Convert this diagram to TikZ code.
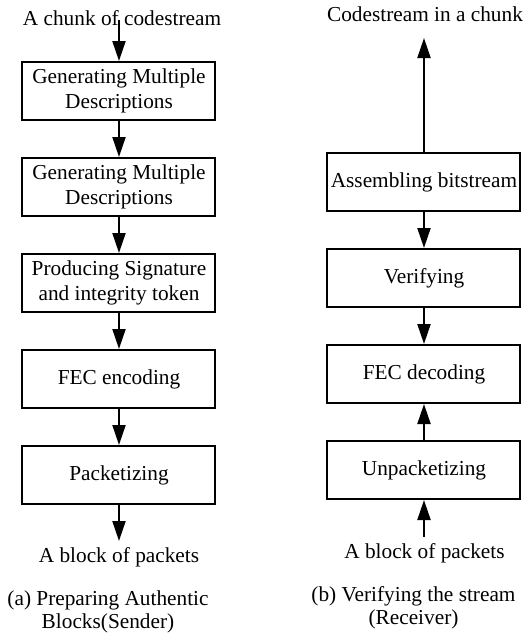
\documentclass[tikz,border=0pt]{standalone}
\usepackage{fontspec}
\setmainfont{Liberation Serif}
\usetikzlibrary{arrows.meta,positioning}

\begin{document}
\begin{tikzpicture}[x=0.5pt, y=-0.5pt,
  font=\fontsize{10.65}{12.75}\selectfont,
  stage/.style={draw, line width=1pt, minimum width=96.5pt, minimum height=29pt, align=center, inner sep=1pt},
  caption/.style={align=center, font=\fontsize{10.65}{11.5}\selectfont},
  flow/.style={-{Triangle[length=10pt,width=6.5pt]}, line width=1pt}]

\useasboundingbox (0,0) rectangle (526,634);

% Sender: stages from top to bottom
\node[anchor=base] (chunkin) at (122,25) {A chunk of codestream};
\coordinate (sendin) at (119,20);
\node[stage] (gen1) at (119,91) {Generating Multiple\\Descriptions};
\node[stage] (gen2) at (119,187) {Generating Multiple\\Descriptions};
\node[stage] (sign) at (119,283) {Producing Signature\\and integrity token};
\node[stage] (fecenc) at (119,379) {FEC encoding};
\node[stage] (packet) at (119,475) {Packetizing};
\coordinate (sendout) at (119,541);
\node[anchor=base] (blockout) at (119,562) {A block of packets};
\node[caption] (capa) at (108,612) {(a) Preparing Authentic\\Blocks(Sender)};

% Sender arrows
\draw[flow] (sendin) -- (gen1);
\draw[flow] (gen1) -- (gen2);
\draw[flow] (gen2) -- (sign);
\draw[flow] (sign) -- (fecenc);
\draw[flow] (fecenc) -- (packet);
\draw[flow] (packet) -- (sendout);

% Receiver: stages from top to bottom
\node[anchor=base] (chunkout) at (425,21) {Codestream in a chunk};
\coordinate (recvout) at (424,38);
\node[stage] (assemble) at (424,182) {Assembling bitstream};
\node[stage] (verify) at (424,278) {Verifying};
\node[stage] (fecdec) at (424,374) {FEC decoding};
\node[stage] (unpack) at (424,470) {Unpacketizing};
\coordinate (recvin) at (424,537);
\node[anchor=base] (blockin) at (424.5,558) {A block of packets};
\node[caption] (capb) at (413.5,608) {(b) Verifying the stream\\(Receiver)};

% Receiver arrows
\draw[flow] (assemble) -- (recvout);
\draw[flow] (assemble) -- (verify);
\draw[flow] (verify) -- (fecdec);
\draw[flow] (unpack) -- (fecdec);
\draw[flow] (recvin) -- (unpack);

\end{tikzpicture}
\end{document}
